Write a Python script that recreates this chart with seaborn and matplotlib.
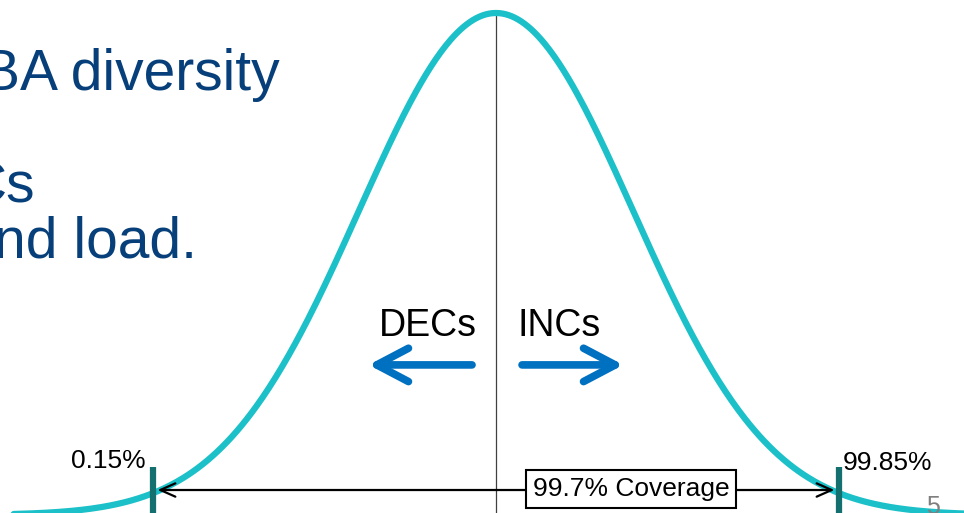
import numpy as np
import pandas as pd
import matplotlib
matplotlib.use("Agg")
import matplotlib.pyplot as plt
import seaborn as sns

# Distribution parameters (standard units) and drawn range of the bell curve
mean = 0.0
sd = 1.0
curve_start = -3.52
curve_end = 3.55

# Coverage markers (in sd units) and their labels
lower_mark = -2.5
upper_mark = 2.5
lower_label = "0.15%"
upper_label = "99.85%"
coverage_label = "99.7% Coverage"

# Direction labels
left_label = "DECs"
right_label = "INCs"

# Slide body text fragments
body_lines = ["BA diversity", "Cs", "nd load."]
page_number = "5"

CURVE = "#1BC0C8"
MARK = "#13706F"
BLUE = "#0070C0"
NAVY = "#063F79"

sns.set_theme(style="white")
plt.rcParams["font.family"] = ["Liberation Sans", "DejaVu Sans"]

x = np.linspace(curve_start, curve_end, 600)
density = np.exp(-0.5 * ((x - mean) / sd) ** 2)  # peak-normalised normal density
df = pd.DataFrame({"x": x, "density": density})

fig = plt.figure(figsize=(9.64, 5.13), dpi=100)
ax = fig.add_axes([0, 0, 1, 1])
ax.set_xlim(-496 / 137, (964 - 496) / 137)
ax.set_ylim(0.004, 515 / 502)
ax.axis("off")

# Centre line at the mean
ax.plot([mean, mean], [-0.05, 1.003], color="#404040", lw=0.9, zorder=1)

# Bell curve
sns.lineplot(data=df, x="x", y="density", color=CURVE, lw=4.5, ax=ax, zorder=3)

# Coverage tick marks
for m in (lower_mark, upper_mark):
    ax.plot([m, m], [-0.05, 0.0956], color=MARK, lw=4.5, solid_capstyle="butt", zorder=4)

# Coverage double arrow
y_cov = 0.0498
cov_style = dict(arrowstyle="->,head_length=0.9,head_width=0.4", color="black", lw=1.6,
                 shrinkA=0, shrinkB=0)
ax.annotate("", xy=(lower_mark + 0.03, y_cov), xytext=(0.0, y_cov), arrowprops=cov_style, zorder=5)
ax.annotate("", xy=(upper_mark - 0.03, y_cov), xytext=(0.0, y_cov), arrowprops=cov_style, zorder=5)
ax.text(0.985, 0.052, coverage_label, ha="center", va="center", fontsize=19, color="black",
        bbox=dict(boxstyle="square,pad=0.25", fc="white", ec="black", lw=1.5), zorder=6)

# Percentile labels
ax.text(-2.555, 0.0936, lower_label, ha="right", va="baseline", fontsize=19, color="black")
ax.text(2.533, 0.0896, upper_label, ha="left", va="baseline", fontsize=19, color="black")

# Direction labels and arrows
ax.text(-0.496, 0.357, left_label, ha="center", va="baseline", fontsize=27, color="black")
ax.text(0.460, 0.357, right_label, ha="center", va="baseline", fontsize=27, color="black")
arrow_y = 0.299
blue_style = dict(arrowstyle="->,head_length=1.9,head_width=1.0", color=BLUE, lw=5.5,
                  shrinkA=0, shrinkB=0, capstyle="round", joinstyle="round")
ax.annotate("", xy=(-0.93, arrow_y), xytext=(-0.175, arrow_y), arrowprops=blue_style)
ax.annotate("", xy=(0.93, arrow_y), xytext=(0.19, arrow_y), arrowprops=blue_style)

# Slide body text
ax.text(-1.577, 0.847, body_lines[0], ha="right", va="baseline", fontsize=41, color=NAVY)
ax.text(-3.365, 0.6235, body_lines[1], ha="right", va="baseline", fontsize=41, color=NAVY)
ax.text(-2.182, 0.512, body_lines[2], ha="right", va="baseline", fontsize=41, color=NAVY)

# Page number
ax.text(3.19, 0.04, page_number, ha="center", va="top", fontsize=18, color="#7F7F7F", zorder=7)

fig.savefig("out.png", dpi=100)
